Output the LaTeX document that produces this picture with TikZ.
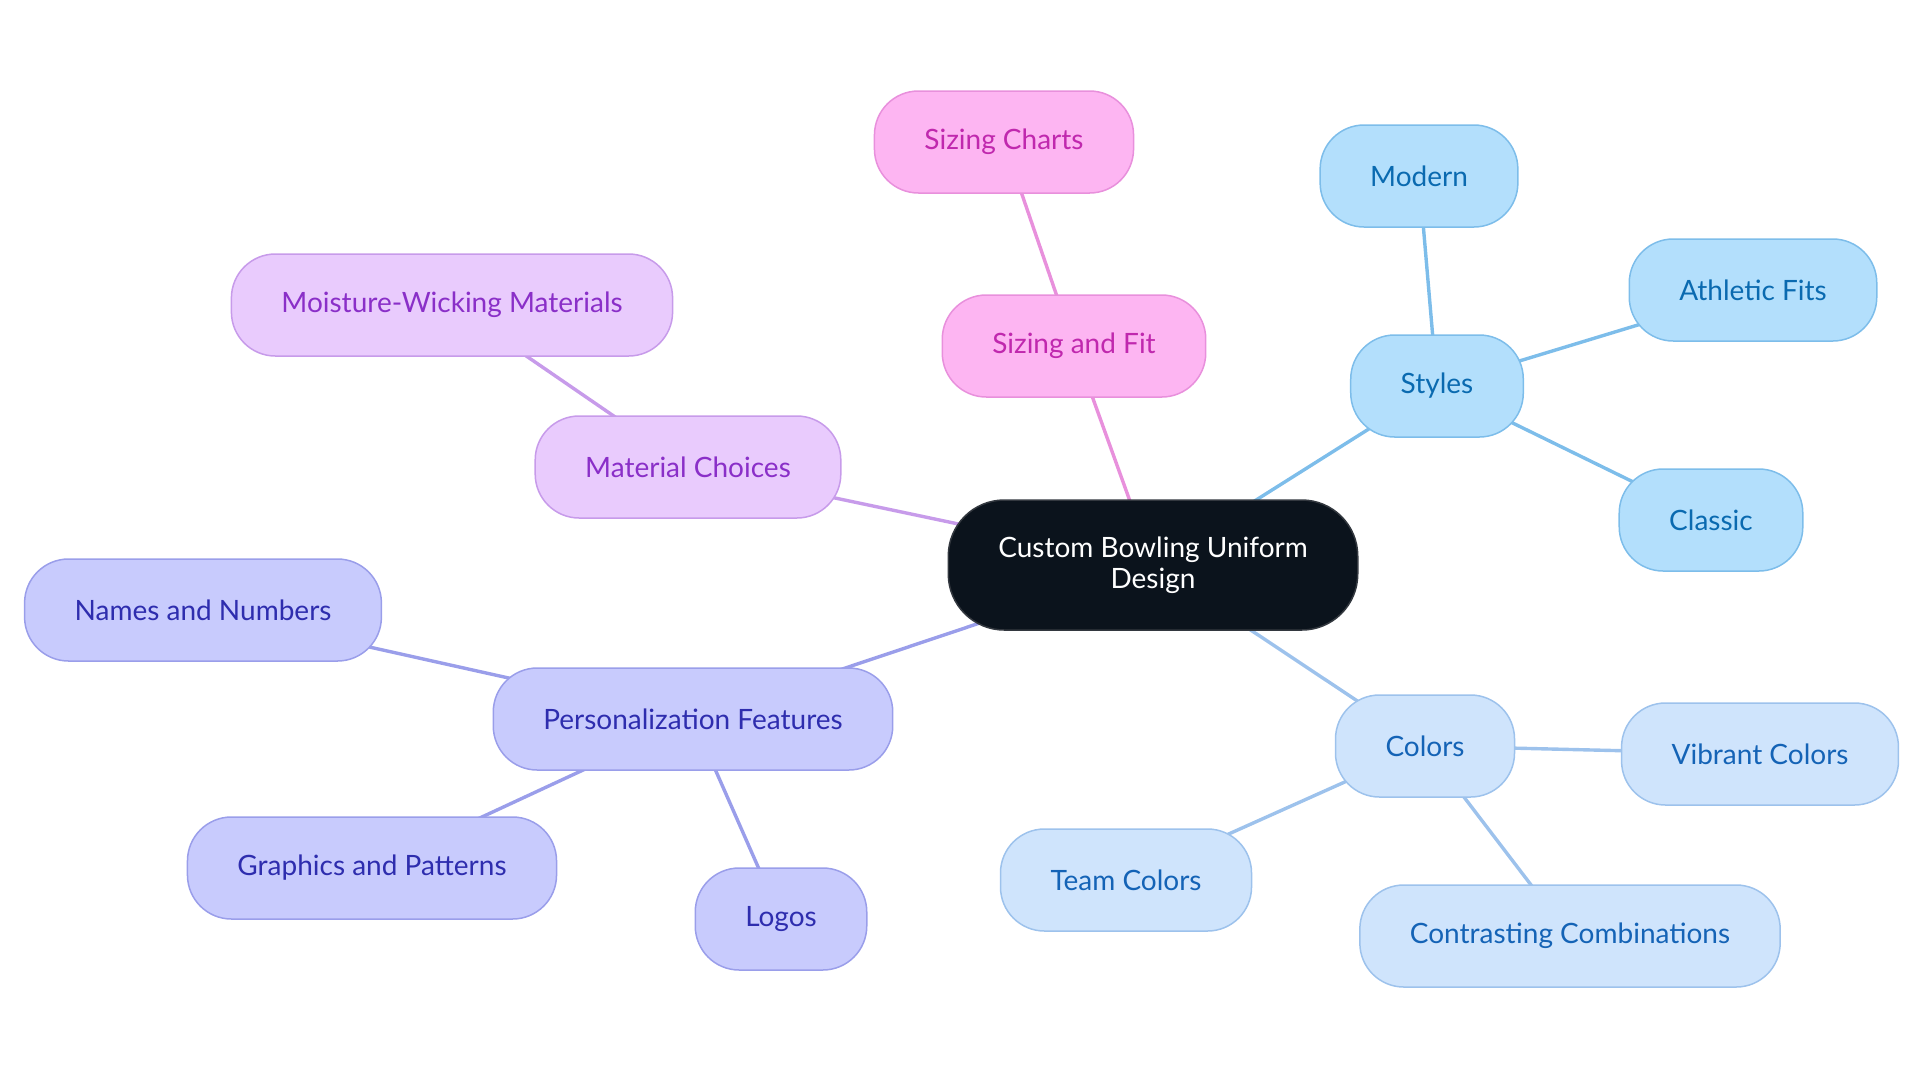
\documentclass[tikz,border=0pt]{standalone}
\usepackage{fontspec}
\setmainfont{Lato}
\usetikzlibrary{backgrounds}

\definecolor{rootfill}{HTML}{0B131C}
\definecolor{rootline}{HTML}{33383F}
\definecolor{pinkfill}{HTML}{FDB5F2}
\definecolor{pinkline}{HTML}{E890DC}
\definecolor{pinktext}{HTML}{C028AE}
\definecolor{lilacfill}{HTML}{E9CBFD}
\definecolor{lilacline}{HTML}{C79BEA}
\definecolor{lilactext}{HTML}{8A2FC8}
\definecolor{indigofill}{HTML}{C8CBFD}
\definecolor{indigoline}{HTML}{9A9EEA}
\definecolor{indigotext}{HTML}{2E2DAE}
\definecolor{skyfill}{HTML}{B3DFFC}
\definecolor{skyline}{HTML}{7DBDEA}
\definecolor{skytext}{HTML}{0A6AB0}
\definecolor{palefill}{HTML}{CFE4FC}
\definecolor{paleline}{HTML}{9DC2EC}
\definecolor{paletext}{HTML}{1463B6}

\begin{document}
\begin{tikzpicture}[x=0.5pt,y=-0.5pt,
	box/.style={rounded corners=22pt,minimum height=51pt,inner xsep=25pt,line width=0.75pt,font=\fontsize{14}{15.5}\selectfont},
	rootbox/.style={box,fill=rootfill,draw=rootline,text=white,minimum width=203pt,minimum height=65pt,rounded corners=28pt,align=center},
	pinkbox/.style={box,fill=pinkfill,draw=pinkline,text=pinktext},
	lilacbox/.style={box,fill=lilacfill,draw=lilacline,text=lilactext},
	indigobox/.style={box,fill=indigofill,draw=indigoline,text=indigotext},
	skybox/.style={box,fill=skyfill,draw=skyline,text=skytext},
	palebox/.style={box,fill=palefill,draw=paleline,text=paletext},
	link/.style={line width=1.7pt}
	]
	\useasboundingbox (0,0) rectangle (1920,1083);
	
	\node [rootbox] (root) at (1153, 565) {Custom Bowling Uniform\\Design};
	
	\node [pinkbox] (fit) at (1074, 346) {Sizing and Fit};
	\node [pinkbox] (charts) at (1004, 142) {Sizing Charts};
	
	\node [lilacbox] (material) at (688, 467) {Material Choices};
	\node [lilacbox] (wicking) at (452, 305) {Moisture-Wicking Materials};
	
	\node [indigobox] (personal) at (693, 719) {Personalization Features};
	\node [indigobox] (names) at (203, 610) {Names and Numbers};
	\node [indigobox] (graphics) at (372, 868) {Graphics and Patterns};
	\node [indigobox] (logos) at (781, 919) {Logos};
	
	\node [skybox] (styles) at (1437, 386) {Styles};
	\node [skybox] (modern) at (1419, 176) {Modern};
	\node [skybox] (athletic) at (1753, 290) {Athletic Fits};
	\node [skybox] (classic) at (1711, 520) {Classic};
	
	\node [palebox] (colors) at (1425, 746) {Colors};
	\node [palebox] (vibrant) at (1760, 754) {Vibrant Colors};
	\node [palebox] (team) at (1126, 880) {Team Colors};
	\node [palebox] (contrast) at (1570, 936) {Contrasting Combinations};
	
	\begin{scope}[on background layer]
		\draw [link,pinkline] (root.center) -- (fit.center) -- (charts.center);
		\draw [link,lilacline] (root.center) -- (material.center) -- (wicking.center);
		\draw [link,indigoline] (root.center) -- (personal.center);
		\foreach \leaf in {names, graphics, logos}
		\draw [link,indigoline] (personal.center) -- (\leaf.center);
		\draw [link,skyline] (root.center) -- (styles.center);
		\foreach \leaf in {modern, athletic, classic}
		\draw [link,skyline] (styles.center) -- (\leaf.center);
		\draw [link,paleline] (root.center) -- (colors.center);
		\foreach \leaf in {vibrant, team, contrast}
		\draw [link,paleline] (colors.center) -- (\leaf.center);
	\end{scope}
\end{tikzpicture}
\end{document}
